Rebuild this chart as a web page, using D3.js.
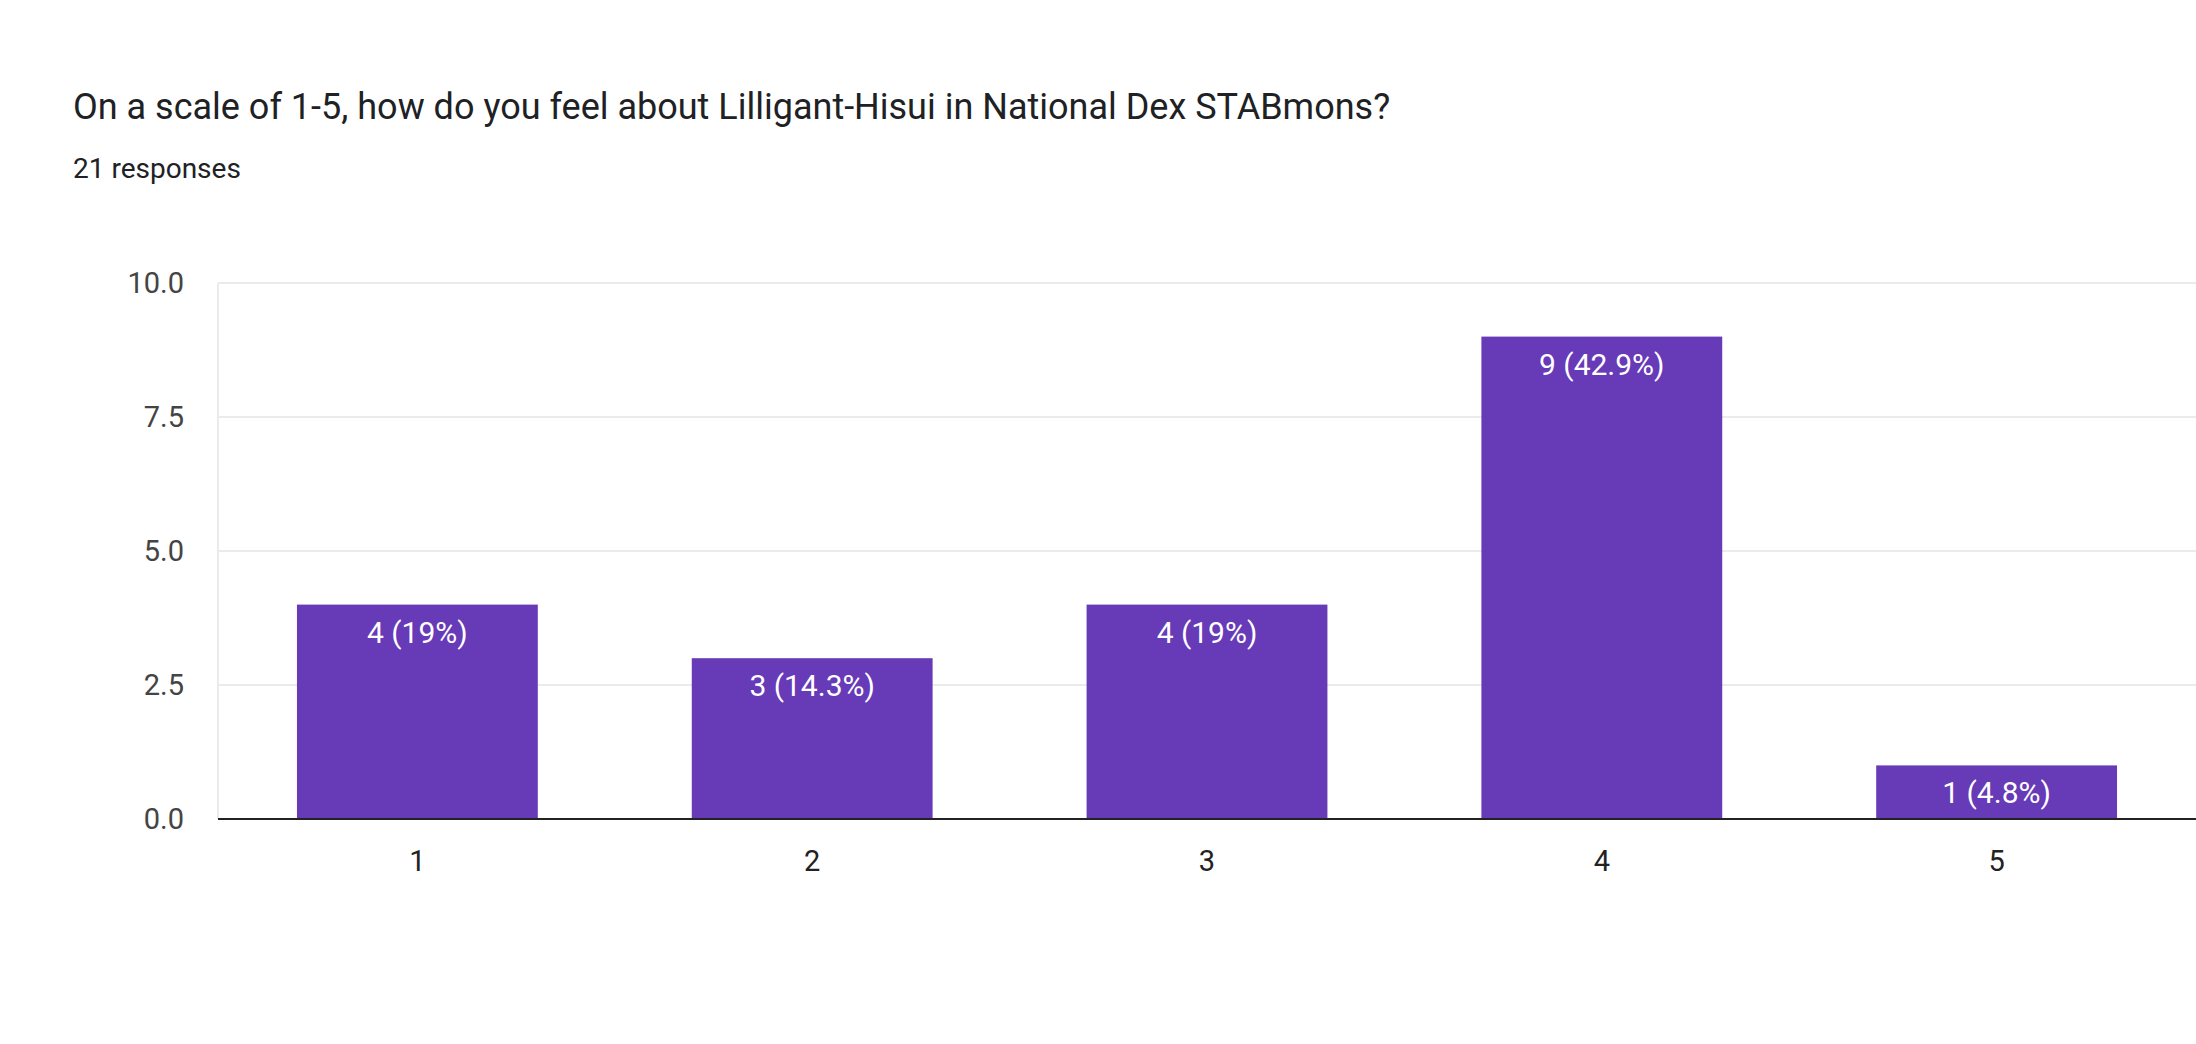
<!DOCTYPE html>
<html><head><meta charset="utf-8">
<script src="https://cdn.jsdelivr.net/npm/d3@7"></script>
<style>body{margin:0;background:#fff}svg{display:block}</style>
</head><body>
<script>
const categories = ["1","2","3","4","5"];
const counts = [4,3,4,9,1];
const labels = ["4 (19%)","3 (14.3%)","4 (19%)","9 (42.9%)","1 (4.8%)"];
const yTicks = [0,2.5,5,7.5,10];
const title = "On a scale of 1-5, how do you feel about Lilligant-Hisui in National Dex STABmons?";
const subtitle = "21 responses";

(function(){
const W=2196,H=1044;
const svg=d3.select("body").append("svg").attr("width",W).attr("height",H);
const font="Roboto, Arial, sans-serif";
svg.append("text").attr("x",73).attr("y",119).attr("font-family",font).attr("font-size",36).attr("fill","#202124").text(title);
svg.append("text").attr("x",73).attr("y",178).attr("font-family",font).attr("font-size",28).attr("fill","#202124").text(subtitle);

const pl=218,pr=2196,pt=283,pb=819;
const x=d3.scaleBand().domain(categories).range([pl,pr]).paddingInner(0.39).paddingOuter(0.2);
const y=d3.scaleLinear().domain([0,10]).range([pb,pt]);

const g=svg.append("g");
g.selectAll("line.grid").data(yTicks).join("line").attr("x1",pl).attr("x2",pr)
 .attr("y1",d=>y(d)).attr("y2",d=>y(d)).attr("stroke","#ebebeb").attr("stroke-width",2);
g.append("line").attr("x1",pl).attr("x2",pl).attr("y1",pt).attr("y2",pb).attr("stroke","#ebebeb").attr("stroke-width",2);
g.selectAll("text.yt").data(yTicks).join("text").attr("x",pl-34).attr("y",d=>y(d)+10)
 .attr("text-anchor","end").attr("font-family",font).attr("font-size",29).attr("fill","#444").text(d=>d.toFixed(1));

g.selectAll("rect").data(counts).join("rect").attr("x",(d,i)=>x(categories[i])).attr("width",x.bandwidth())
 .attr("y",d=>y(d)).attr("height",d=>pb-y(d)).attr("fill","#673ab7");
g.selectAll("text.bl").data(counts).join("text").attr("x",(d,i)=>x(categories[i])+x.bandwidth()/2)
 .attr("y",d=>y(d)+38).attr("text-anchor","middle").attr("font-family",font).attr("font-size",30).attr("fill","#fff")
 .text((d,i)=>labels[i]);
g.append("line").attr("x1",pl).attr("x2",pr).attr("y1",pb).attr("y2",pb).attr("stroke","#222").attr("stroke-width",2);
g.selectAll("text.xt").data(categories).join("text").attr("x",d=>x(d)+x.bandwidth()/2).attr("y",871)
 .attr("text-anchor","middle").attr("font-family",font).attr("font-size",29).attr("fill","#222").text(d=>d);
})();
</script>
</body></html>
